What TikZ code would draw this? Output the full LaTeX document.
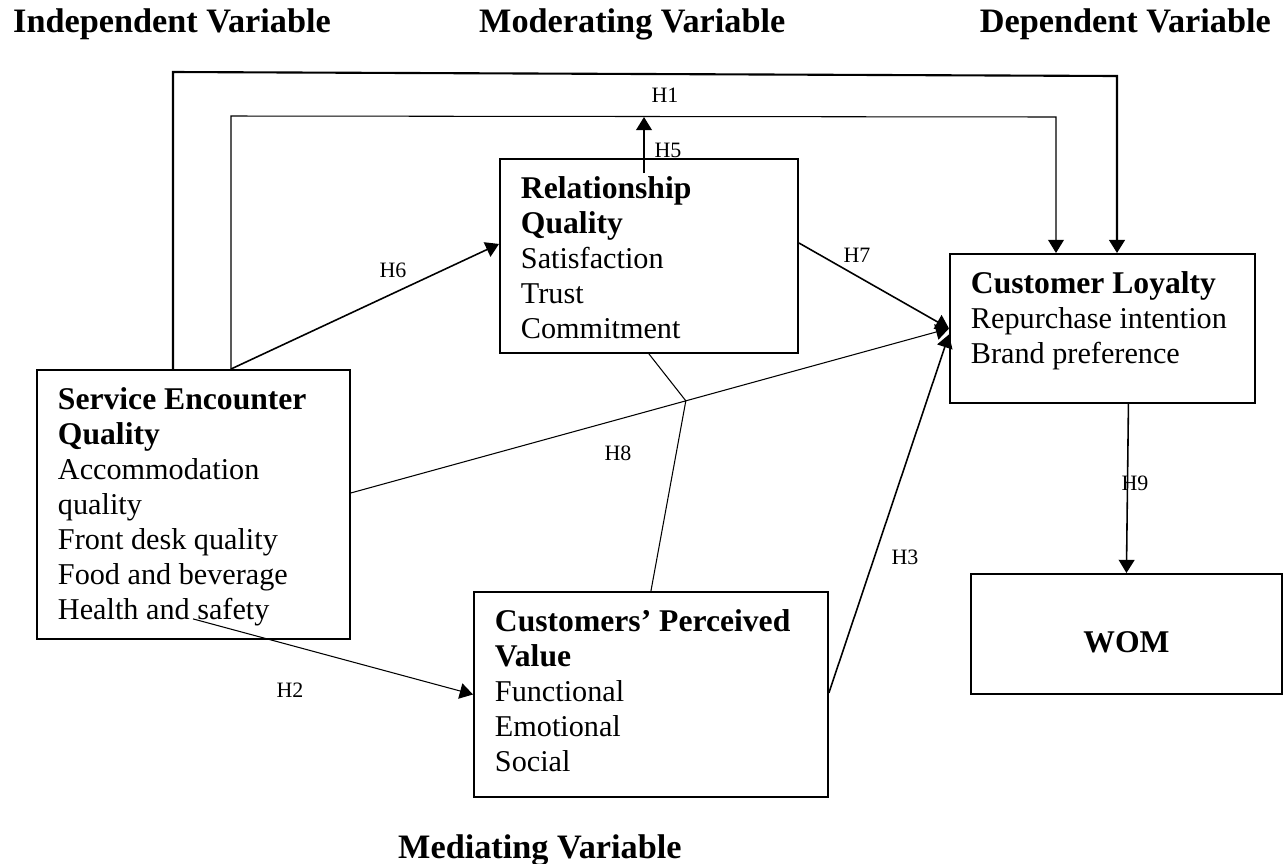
\documentclass[tikz,border=0pt]{standalone}
\usepackage{fontspec}
\setmainfont{Liberation Serif}
\usetikzlibrary{arrows.meta,calc}
\newcommand\bodysize{\fontsize{17.2}{19.9}\selectfont}
\newcommand\bhead[1]{{\fontsize{18}{19.9}\selectfont\bfseries #1}}
\begin{document}
\begin{tikzpicture}[x=0.02cm,y=-0.02cm,
  box/.style={draw,line width=1.1pt,anchor=north west,inner xsep=0.42cm,inner ysep=0.36cm,font=\bodysize},
  heading/.style={font=\fontsize{19.5}{22}\selectfont\bfseries},
  hlab/.style={font=\fontsize{12.5}{14}\selectfont,inner sep=0pt},
  tip/.style={-{Triangle[length=7.5pt,width=9pt]}}]
\useasboundingbox (0,0) rectangle (1287,863);
% 标题
\node[heading,anchor=base west] (indep) at (7,32) {Independent Variable};
\node[heading,anchor=base west] (moder) at (473,32) {Moderating Variable};
\node[heading,anchor=base east] (depen) at (1277,32) {Dependent Variable};
\node[heading,anchor=base west] (media) at (392,858) {Mediating Variable};
% 方框
\node[box] (seq) at (36,369) {\parbox[c][4.66cm][t]{5.42cm}{\raggedright
  \bhead{Service Encounter}\\ \bhead{Quality}\\ Accommodation\\ quality\\
  Front desk quality\\ Food and beverage\\ Health and safety}};
\node[box] (rq) at (499,158) {\parbox[c][3.16cm][t]{5.12cm}{\raggedright
  \bhead{Relationship}\\ \bhead{Quality}\\ Satisfaction\\ Trust\\ Commitment}};
\node[box] (cl) at (949,253) {\parbox[c][2.26cm][t]{5.26cm}{\raggedright
  \bhead{Customer Loyalty}\\ Repurchase intention\\ Brand preference}};
\node[box] (cpv) at (473,591) {\parbox[c][3.38cm][t]{6.24cm}{\raggedright
  \bhead{Customers’ Perceived}\\ \bhead{Value}\\ Functional\\ Emotional\\ Social}};
\node[box,inner sep=0pt,minimum width=6.22cm,minimum height=2.4cm,text height=0.76cm,text depth=0pt] (wom) at (970,573) {\bhead{WOM}};
% 连线
\draw[tip,line width=1.2pt] ($(seq.north west)+(137,0)$) -- (173,72) -- (1117,76) -- ($(cl.north west)+(168,0)$);
\draw[tip,line width=0.6pt] ($(seq.north west)+(195,0)$) -- (231,116) -- (1056,117) -- ($(cl.north west)+(107,0)$);
\draw[tip,line width=0.9pt] ($(seq.north west)+(195,0)$) -- ($(rq.west)+(0,-12)$);
\draw[tip,line width=0.9pt] ($(rq.north west)+(145,15)$) -- ($(rq.north west)+(145,-41)$);
\draw[tip,line width=0.9pt] ($(rq.east)+(0,-13)$) -- (cl.west);
\coordinate (h8a) at ($(seq.east)+(0,-11.5)$);
\coordinate (jn) at ($(h8a)!0.56!(cl.west)$);
\draw[tip,line width=0.6pt] (h8a) -- (cl.west);
\draw[line width=0.6pt] (rq.south) -- (jn) -- (cpv.north);
\draw[tip,line width=0.6pt] ($(seq.south west)+(157,-21)$) -- (cpv.west);
\draw[tip,line width=0.9pt] ($(cpv.east)+(0,-1.5)$) -- ($(cl.west)+(0,6)$);
\draw[tip,line width=0.9pt] ($(cl.south)+(26,0)$) -- (wom.north);
% 标签
\node[hlab] (h1) at (665,95) {H1};
\node[hlab] (h5) at (668,150) {H5};
\node[hlab] (h6) at (393,270) {H6};
\node[hlab] (h7) at (857,255) {H7};
\node[hlab] (h8) at (618,453) {H8};
\node[hlab] (h2) at (290,690) {H2};
\node[hlab] (h3) at (905,557) {H3};
\node[hlab] (h9) at (1135,483) {H9};
\end{tikzpicture}
\end{document}
